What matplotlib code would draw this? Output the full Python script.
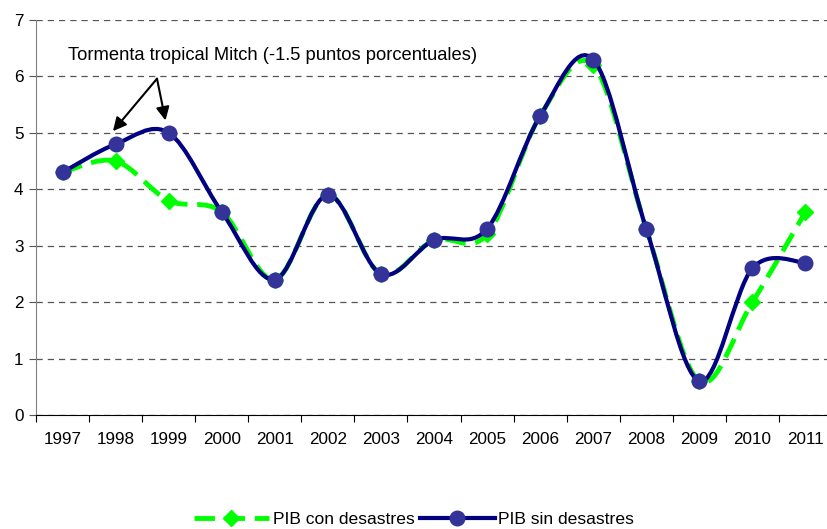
import numpy as np
import matplotlib
matplotlib.use("Agg")
import matplotlib.pyplot as plt
from matplotlib.path import Path
from matplotlib.patches import PathPatch
from matplotlib.lines import Line2D

plt.rcParams['font.family'] = ['Liberation Sans', 'DejaVu Sans']

years = ['1997', '1998', '1999', '2000', '2001', '2002', '2003', '2004',
         '2005', '2006', '2007', '2008', '2009', '2010', '2011']
pib_con = [4.3, 4.5, 3.8, 3.6, 2.4, 3.9, 2.5, 3.1, 3.2, 5.3, 6.2, 3.3, 0.6, 2.0, 3.6]
pib_sin = [4.3, 4.8, 5.0, 3.6, 2.4, 3.9, 2.5, 3.1, 3.3, 5.3, 6.3, 3.3, 0.6, 2.6, 2.7]
nota = 'Tormenta tropical Mitch (-1.5 puntos porcentuales)'


def smooth_path(xs, ys):
    # bezier like Excel's "smoothed line"
    p = np.column_stack([xs, ys]).astype(float)
    n = len(p)
    verts = [p[0]]
    codes = [Path.MOVETO]
    for i in range(n - 1):
        p0 = p[max(i - 1, 0)]
        p1 = p[i]
        p2 = p[i + 1]
        p3 = p[min(i + 2, n - 1)]
        c1 = p1 + (p2 - p0) / 6.0
        c2 = p2 - (p3 - p1) / 6.0
        verts += [c1, c2, p2]
        codes += [Path.CURVE4] * 3
    return Path(verts, codes)


x = np.arange(len(years))
green = '#00ff00'
navy = '#000080'
dot = '#333399'
dash = (0, (4.2, 2.0))

fig = plt.figure(figsize=(8.28, 5.29), dpi=100)
ax = fig.add_axes([36 / 828, 1 - 415 / 529, 796 / 828, 395 / 529])

ax.add_patch(PathPatch(smooth_path(x, pib_con), fill=False, edgecolor=green,
                       lw=3.5, linestyle=dash, capstyle='butt', zorder=3))
ax.plot(x, pib_con, ls='none', marker='D', ms=8, color=green, zorder=4)
ax.add_patch(PathPatch(smooth_path(x, pib_sin), fill=False, edgecolor=navy,
                       lw=3, zorder=5))
ax.plot(x, pib_sin, ls='none', marker='o', ms=10.5, color=dot, zorder=6)

ax.set_xlim(-0.5, len(years) - 0.5)
ax.set_ylim(0, 7)
ax.set_yticks(range(0, 8))
ax.yaxis.grid(True, linestyle=(0, (5, 4)), color='#555555', lw=0.9)
ax.set_axisbelow(True)

ax.set_xticks(np.arange(len(years) + 1) - 0.5)
ax.set_xticklabels([])
ax.set_xticks(x, minor=True)
ax.set_xticklabels(years, minor=True)
ax.tick_params(axis='x', which='major', length=5, color='black', direction='out')
ax.tick_params(axis='x', which='minor', length=0, pad=12, labelsize=12.3)
ax.tick_params(axis='y', length=5, color='#555555', labelsize=12.3, pad=4)

ax.spines['top'].set_visible(False)
ax.spines['right'].set_visible(False)
ax.spines['left'].set_color('#808080')
ax.spines['bottom'].set_color('black')

ax.text(0.1, 6.37, nota, fontsize=13.2, va='center', ha='left')
for tx, ty in [(0.95, 5.03), (1.94, 5.22)]:
    ax.annotate('', xy=(tx, ty), xytext=(1.78, 5.96),
                arrowprops=dict(arrowstyle='-|>', color='black', lw=1.5,
                                mutation_scale=20, shrinkA=0, shrinkB=0))

handles = [
    Line2D([], [], color=green, lw=3.5, ls=dash, marker='D', ms=8),
    Line2D([], [], color=navy, lw=3, marker='o', ms=10.5, markerfacecolor=dot,
           markeredgecolor=dot),
]
fig.legend(handles, ['PIB con desastres', 'PIB sin desastres'], loc='center',
           bbox_to_anchor=(0.5, 1 - 519 / 529), ncol=2, frameon=False,
           fontsize=12.6, handlelength=4.3, columnspacing=0.3, handletextpad=0.2,
           numpoints=1)

fig.savefig('out.png', dpi=100)
